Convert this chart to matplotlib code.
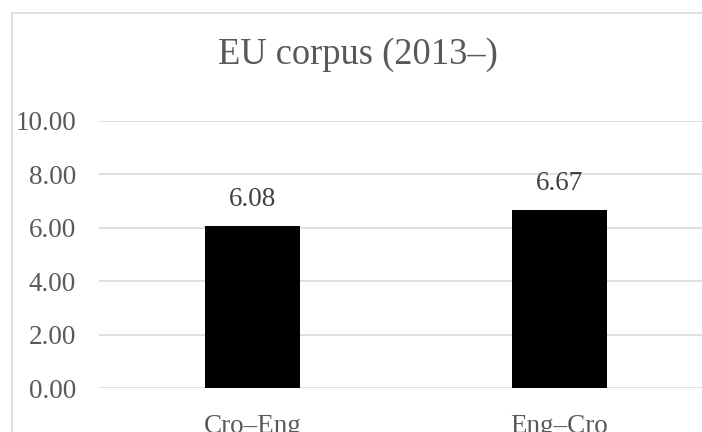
import numpy as np
from matplotlib import pyplot as plt
from matplotlib.lines import Line2D

# Data
categories = ['Cro–Eng', 'Eng–Cro']
values = [6.08, 6.67]
yticks = [0, 2, 4, 6, 8, 10]

plt.rcParams['font.family'] = ['Liberation Serif', 'DejaVu Serif']

W, H = 702, 432
fig = plt.figure(figsize=(W / 100, H / 100), dpi=100, facecolor='w')

# plot area (extends past the right edge, as in the cropped reference)
left, right = 99.5, 712.5
bottom, top = 388, 121
ax = fig.add_axes([left / W, 1 - bottom / H, (right - left) / W, (bottom - top) / H])

x = np.arange(len(categories))
ax.bar(x, values, width=0.31, color='black', zorder=3)
ax.set_xlim(-0.5, len(categories) - 0.5)
ax.set_ylim(0, 10)

ax.set_yticks(yticks)
ax.set_yticklabels([f'{v:.2f}' for v in yticks])
ax.set_xticks(x)
ax.set_xticklabels(categories)
ax.tick_params(axis='y', length=0, pad=17, labelsize=19.5, labelcolor='#595959')
ax.tick_params(axis='x', length=0, pad=19, labelsize=19.5, labelcolor='#595959')
ax.yaxis.grid(True, color='#d9d9d9', lw=1.2, zorder=0)
ax.set_axisbelow(True)
for s in ax.spines.values():
    s.set_visible(False)

for xi, v in zip(x, values):
    ax.annotate(f'{v:.2f}', (xi, v), xytext=(0, 10), textcoords='offset points',
                ha='center', va='bottom', fontsize=19.5, color='#404040')

fig.text(358 / W, 1 - 55 / H, 'EU corpus (2013–)', ha='center', va='center',
         fontsize=26.3, color='#595959')

# chart frame (only top and left edges are visible in the crop)
fig.add_artist(Line2D([12 / W, 12 / W], [0, 1 - 13 / H], color='#d9d9d9', lw=1.2,
                      transform=fig.transFigure))
fig.add_artist(Line2D([12 / W, 1], [1 - 13 / H, 1 - 13 / H], color='#d9d9d9', lw=1.2,
                      transform=fig.transFigure))

fig.savefig('out.png', dpi=100)
